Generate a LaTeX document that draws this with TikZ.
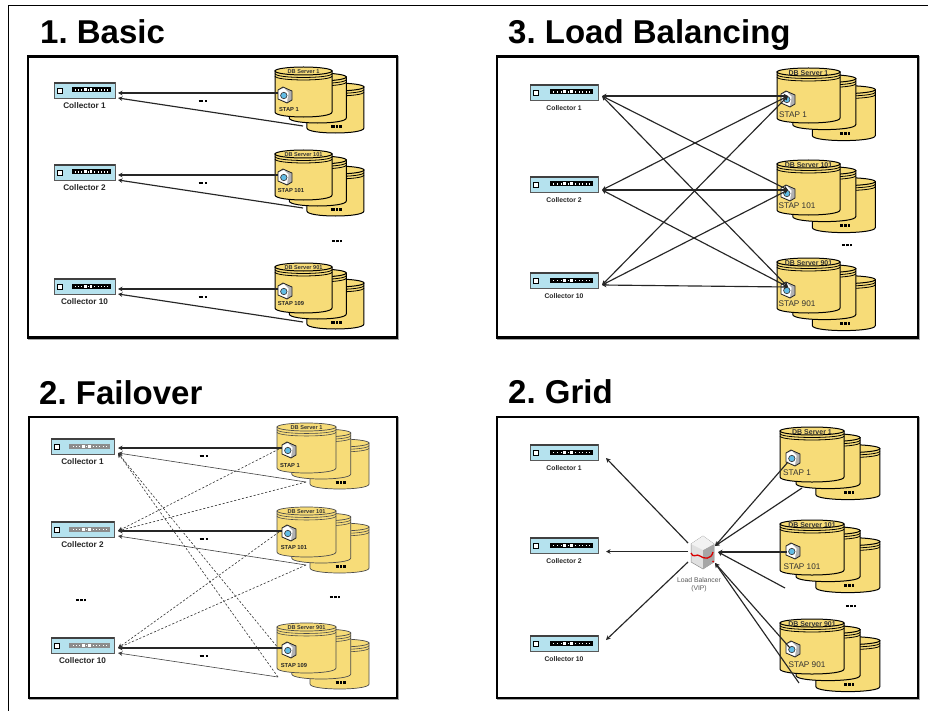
\documentclass[tikz,border=0pt]{standalone}
\usepackage{fontspec}
\setmainfont{Liberation Sans}
\usetikzlibrary{arrows.meta,calc}
\definecolor{dbfill}{HTML}{F7DC78}
\definecolor{collfill}{HTML}{B5E2EE}
\definecolor{stapblue}{HTML}{62BDE6}
\frenchspacing
\tikzset{x=1pt,y=-1pt,
  heading/.style={font=\bfseries\fontsize{33}{35}\selectfont,anchor=base west,inner sep=0},
  cylbody/.style={draw=black,line width=1pt,fill=dbfill},
  cylline/.style={draw=black,line width=.8pt},
  dbtitle/.style={font=\bfseries\fontsize{5.6}{6}\selectfont,inner sep=0,text=black!80},
  dbtitlelarge/.style={font=\bfseries\fontsize{7}{8}\selectfont,inner sep=0,text=black!80},
  staptext/.style={font=\bfseries\fontsize{5.8}{6}\selectfont,inner sep=0,text=black!85},
  staplarge/.style={font=\fontsize{8.2}{10}\selectfont,inner sep=0,text=black!80},
  colllabel/.style={font=\bfseries\fontsize{8.2}{9}\selectfont,inner sep=0,text=black!85},
  colllabelsmall/.style={font=\bfseries\fontsize{6.8}{8}\selectfont,inner sep=0,text=black!85},
  dots/.style={font=\bfseries\fontsize{7}{7}\selectfont,inner sep=0},
  link/.style={line width=1.15pt,draw=black!85,-{Stealth[length=4.5pt,width=4.5pt]}},
  both link/.style={line width=1.15pt,draw=black!85,{Stealth[length=4.5pt,width=4.5pt]}-{Stealth[length=4.5pt,width=4.5pt]}},
  thin link/.style={line width=.6pt,draw=black!75,-{Stealth[length=4.5pt,width=4.5pt]}},
  dash link/.style={line width=.6pt,dash pattern=on 2.2pt off 1.8pt,draw=black!80,-{Stealth[length=4.5pt,width=4.5pt]}},
}
\newcommand{\threedots}{\rule{3.2pt}{2.6pt}\kern.9pt\rule{2.6pt}{2.6pt}\kern.9pt\rule{2.6pt}{2.6pt}}
\newcommand{\twodots}{\rule{4.6pt}{2.4pt}\kern1.5pt\rule{2.6pt}{2.4pt}}
\newcommand{\panelbox}[4]{%
  \draw[black!35,line width=2.5pt] (#1+1,#2+1) rectangle (#3+1,#4+1);
  \fill[white] (#1,#2) rectangle (#3,#4);
  \draw[black,line width=2.6pt] (#1,#2) rectangle (#3,#4);
}
\newcommand{\cyl}[4]{%
  \path[cylbody] (#1,#2+4) -- (#1,#2+#4-5) .. controls (#1,#2+#4+1.67) and (#1+#3,#2+#4+1.67) .. (#1+#3,#2+#4-5)
    -- (#1+#3,#2+4) -- cycle;
  \path[cylbody] (#1+#3/2,#2+4) circle[x radius=#3/2,y radius=4];
  \draw[cylline] (#1,#2+6.5) .. controls (#1,#2+11.8) and (#1+#3,#2+11.8) .. (#1+#3,#2+6.5);
  \draw[cylline] (#1,#2+9) .. controls (#1,#2+14.3) and (#1+#3,#2+14.3) .. (#1+#3,#2+9);
}
\newcommand{\dbstack}[7]{%
  \cyl{#2+0.56*#4}{#3+0.32*#5}{#4}{#5}
  \cyl{#2+0.25*#4}{#3+0.12*#5}{#4}{#5}
  \cyl{#2}{#3}{#4}{#5}
  \node[#7] (#1-t) at (#2+#4/2,#3+4.6) {#6};
  \node[dots] (#1-d) at (#2+#4*1.08,#3+#5*1.19) {\threedots};
}
\newcommand{\stapicon}[3]{%
  \begin{scope}[shift={($(#1)+(#2,#3)$)}]
  \fill[black!30,draw=black!85,line width=.8pt] (-7,-5) -- (-2,-8) -- (7,-4) -- (7,5) -- (2,8) -- (-7,4) -- cycle;
  \fill[white] (-6.3,-4.6) -- (-1,-7) -- (3.6,-2.2) -- (2,7) -- (-6.3,3.6) -- cycle;
  \fill[stapblue,draw=black!75,line width=.7pt] (-1.2,.5) circle[radius=3.2];
  \end{scope}
}
\newcommand{\collector}[7]{%
  \fill[collfill] (#2,#3) rectangle (#2+#4,#3+16.5);
  \draw[black!65,line width=.9pt] (#2,#3) rectangle (#2+#4,#3+16.5);
  \fill[black!75] (#2,#3) rectangle (#2+#4,#3+2);
  \fill[white,draw=black,line width=.5pt] (#2+3,#3+6) rectangle (#2+8,#3+11);
  \fill[#7] (#2+#4*.29,#3+5.5) rectangle (#2+#4*.93,#3+10.5);
  \foreach \k in {1,...,11}{\fill[white] (#2+#4*.29+\k*#4*.053,#3+7.5) rectangle +(1,1.2);}
  \fill[white] (#2+#4*.49,#3+6.5) rectangle +(3,3);
  \fill[white] (#2+#4*.59,#3+6.5) rectangle +(2.5,3);
  \coordinate (#1) at (#2+#4,#3+8);
  \node[#6] (#1-l) at (#2+#4/2,#3+24) {#5};
}
\begin{document}
\begin{tikzpicture}
\useasboundingbox (0,0) rectangle (928,711);
\fill[white] (0,0) rectangle (928,711);
\draw[black,line width=1pt] (8.5,711) -- (8.5,5.5) -- (928,5.5);
\node[heading] (h1) at (40,44) {1. Basic};
\node[heading] (h3) at (508,44) {3. Load Balancing};
\node[heading] (h2) at (39,404) {2. Failover};
\node[heading] (h4) at (508,403) {2. Grid};
\panelbox{28}{56.5}{397}{337.5}
\panelbox{497}{56.5}{918}{337.5}
\panelbox{29}{417}{397}{698}
\panelbox{497}{417}{918}{698}
% ---------- panel 1
\collector{a1}{54}{82}{61}{Collector 1}{colllabel}{black}
\collector{a2}{54}{164}{61}{Collector 2}{colllabel}{black}
\collector{a3}{54}{278}{61}{Collector 10}{colllabel}{black}
\dbstack{ad1}{275}{67}{57}{50}{DB Server 1}{dbtitle}
\dbstack{ad2}{275}{150}{57}{50}{DB Server 101}{dbtitle}
\dbstack{ad3}{275}{263}{57}{50}{DB Server 901}{dbtitle}
\node[staptext] (as1) at (289,110) {STAP 1};
\node[staptext] (as2) at (291,191) {STAP 101};
\node[staptext] (as3) at (291,304) {STAP 109};
\foreach \n/\c/\y in {ad1/a1/93,ad2/a2/175,ad3/a3/289}{
  \coordinate (\n-c) at (286,\y);
  \coordinate (\c-p) at (118,\y);
  \coordinate (\c-q) at (118,\y+5);
  \coordinate (\n-f) at (303,\y+33);
  \draw[link] (\n-c) -- (\c-p);
  \draw[link] (\n-f) -- (\c-q);
  \stapicon{\n-c}{-1}{2}
  \node[dots] at (203,\y+8) {\twodots};
}
\node[dots] (am) at (337,241) {\threedots};
% ---------- panel 3
\collector{b1}{530}{84}{68}{Collector 1}{colllabelsmall}{black}
\collector{b2}{530}{176}{68}{Collector 2}{colllabelsmall}{black}
\collector{b3}{530}{272}{68}{Collector 10}{colllabelsmall}{black}
\dbstack{bd1}{777}{68}{63}{55}{DB Server 1}{dbtitlelarge}
\dbstack{bd2}{777}{160}{63}{55}{DB Server 101}{dbtitlelarge}
\dbstack{bd3}{777}{258}{63}{55}{DB Server 901}{dbtitlelarge}
\node[staplarge] (bs1) at (793,115) {STAP 1};
\node[staplarge] (bs2) at (797,206) {STAP 101};
\node[staplarge] (bs3) at (797,304) {STAP 901};
\coordinate (bc1) at (602,96); \coordinate (bc2) at (602,190); \coordinate (bc3) at (602,285);
\coordinate (bt1) at (788,96); \coordinate (bt2) at (788,190); \coordinate (bt3) at (788,287);
\foreach \i in {1,2,3}{\stapicon{bt\i}{0}{3}}
\foreach \i in {1,2,3}{\foreach \j in {1,2,3}{
  \draw[both link] (bt\i) -- (bc\j);
}}
\node[dots] (bm) at (847,245) {\threedots};
% ---------- panel failover
\tikzset{cylbody/.append style={draw=black!70,line width=.7pt},cylline/.append style={draw=black!70,line width=.6pt}}
\collector{c1}{51}{438}{63}{Collector 1}{colllabel}{black!45}
\collector{c2}{51}{521}{63}{Collector 2}{colllabel}{black!45}
\collector{c3}{51}{637}{63}{Collector 10}{colllabel}{black!45}
\dbstack{cd1}{277}{423}{59}{50}{DB Server 1}{dbtitle}
\dbstack{cd2}{277}{507}{59}{50}{DB Server 101}{dbtitle}
\dbstack{cd3}{277}{623}{59}{50}{DB Server 901}{dbtitle}
\node[staptext] (cs1) at (290,465) {STAP 1};
\node[staptext] (cs2) at (294,547) {STAP 101};
\node[staptext] (cs3) at (294,665) {STAP 109};
\foreach \n/\c/\y in {cd1/c1/448,cd2/c2/531,cd3/c3/648}{
  \coordinate (\n-c) at (288,\y);
  \coordinate (\c-p) at (118,\y);
  \coordinate (\c-q) at (118,\y+5);
  \coordinate (\n-f) at (306,\y+34);
  \coordinate (\n-g) at (279,\y+1);
  \draw[link] (\n-c) -- (\c-p);
  \node[dots] at (204,\y+8) {\twodots};
}
\coordinate (cd3-h) at (278,677);
\draw[thin link] (cd1-f) -- (c1-q);
\draw[thin link] (cd2-f) -- (c2-q);
\draw[thin link] (cd3-h) -- (c3-q);
\draw[dash link] (cd1-g) -- (c2-p);
\draw[dash link] (cd1-f) -- (c2-p);
\draw[dash link] (cd2-g) -- (c3-p);
\draw[dash link] (cd2-f) -- (c3-p);
\draw[dash link] (cd3-g) -- (c1-q);
\draw[dash link] (cd3-h) -- (c1-q);
\foreach \n in {cd1,cd2,cd3}{\stapicon{\n-c}{1}{2}}
\node[dots] (cm) at (335,597) {\threedots};
\node[dots] (cn) at (81,600) {\threedots};
% ---------- panel grid
\tikzset{cylbody/.append style={draw=black,line width=1pt},cylline/.append style={draw=black,line width=.8pt}}
\collector{d1}{530}{444}{68}{Collector 1}{colllabelsmall}{black}
\collector{d2}{530}{537}{68}{Collector 2}{colllabelsmall}{black}
\collector{d3}{530}{635}{68}{Collector 10}{colllabelsmall}{black}
\dbstack{dd1}{780}{427}{64}{55}{DB Server 1}{dbtitlelarge}
\dbstack{dd2}{780}{520}{64}{55}{DB Server 101}{dbtitlelarge}
\dbstack{dd3}{780}{619}{64}{55}{DB Server 901}{dbtitlelarge}
\node[staplarge] (ds1) at (797,473) {STAP 1};
\node[staplarge] (ds2) at (802,567) {STAP 101};
\node[staplarge] (ds3) at (807,665) {STAP 901};
\fill[black!12,draw=black!45,line width=.5pt] (691,544) -- (703,536) -- (714,544) -- (714,562) -- (703,569) -- (691,562) -- cycle;
\fill[black!35] (703,550) -- (714,544) -- (714,562) -- (703,569) -- cycle;
\fill[black!5] (691,544) -- (703,536) -- (714,544) -- (703,550) -- cycle;
\draw[red!85!black,line width=1.3pt] (691,553) .. controls (693,559) and (697,553) .. (700,556) .. controls (704,559) and (711,560) .. (713,552);
\fill[red!85!black] (713,561.5) circle[radius=1];
\node[font=\fontsize{6.8}{7.8}\selectfont,text=black!65,align=center,inner sep=0] (lbl) at (699,585) {Load Balancer\\(VIP)};
\coordinate (lb1) at (688,543); \coordinate (lb2) at (688,551.5); \coordinate (lb3) at (688,562);
\coordinate (l1) at (606,458); \coordinate (l2) at (606,551.5); \coordinate (l3) at (606,640);
\foreach \i in {1,2,3}{\draw[link] (lb\i) -- (l\i);}
\coordinate (lr1) at (715,546); \coordinate (lr2) at (718,552); \coordinate (lr3) at (715,563);
\coordinate (e1) at (788,462); \coordinate (e2) at (802,488);
\coordinate (e3) at (787,552); \coordinate (e4) at (785,588);
\coordinate (e5) at (790,648); \coordinate (e6) at (799,683);
\coordinate (i1) at (793,458); \coordinate (i2) at (793,551); \coordinate (i3) at (793,649);
\foreach \i in {1,2,3}{\stapicon{i\i}{0}{0}}
\draw[link] (e1) -- (lr1); \draw[link] (e2) -- (lr1);
\draw[link] (e3) -- (lr2); \draw[link] (e4) -- (lr2);
\draw[link] (e5) -- (lr3); \draw[link] (e6) -- (lr3);
\node[dots] (dm) at (851,606) {\threedots};
\end{tikzpicture}
\end{document}
